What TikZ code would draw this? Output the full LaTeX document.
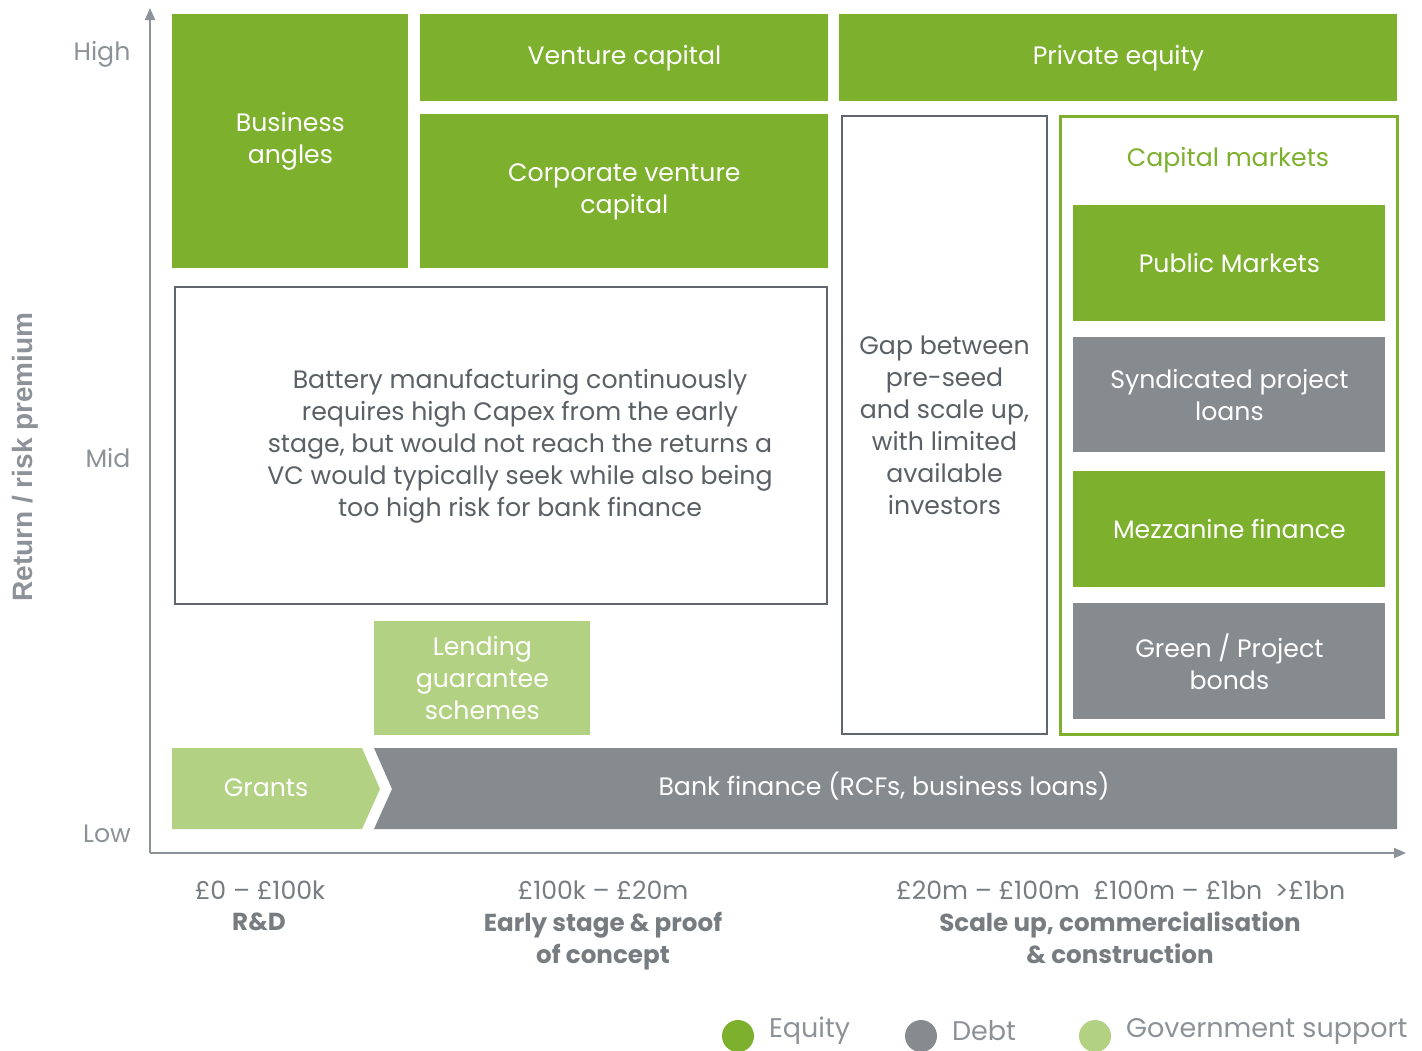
\documentclass[tikz,border=0pt]{standalone}
\usepackage{fontspec}
\setmainfont{Poppins}
\newfontfamily\axisfont{Liberation Sans}
\usetikzlibrary{arrows.meta}

\definecolor{eqgreen}{HTML}{7DB02D}
\definecolor{debtgray}{HTML}{868B90}
\definecolor{govgreen}{HTML}{B3D182}
\definecolor{axisgray}{HTML}{8C9298}
\definecolor{textgray}{HTML}{5A6066}
\definecolor{linegray}{HTML}{5F666D}

\tikzset{
  blk/.style 2 args={minimum width=#1*0.5pt, minimum height=#2*0.5pt, anchor=north west, inner sep=0pt, align=center},
  eqbox/.style={fill=eqgreen, text=white},
  debtbox/.style={fill=debtgray, text=white},
  govbox/.style={fill=govgreen, text=white},
  outbox/.style={draw=linegray, line width=1pt, fill=white, text=textgray},
  axis/.style={axisgray, line width=1pt, -{Triangle[length=6pt,width=5pt]}},
  ticklab/.style={text=axisgray},
  costlab/.style={text=axisgray!85!black, align=center},
  boldlab/.style={costlab, font=\bfseries\fontsize{12.3}{16}\selectfont},
  leglab/.style={text=axisgray, anchor=west, font=\fontsize{13.5}{16}\selectfont},
}

\begin{document}
\begin{tikzpicture}[x=0.5pt, y=-0.5pt, font=\fontsize{12.6}{16}\selectfont]
  \useasboundingbox (0,0) rectangle (1422,1050);

% axes
  \coordinate (origin) at (150,853);
  \coordinate (ytip) at (150,8);
  \coordinate (xtip) at (1406,853);
  \draw[axis] (origin) -- (ytip);
  \draw[axis] (origin) -- (xtip);
  \node[ticklab] (high) at (102,54) {High};
  \node[ticklab] (mid) at (108,458) {Mid};
  \node[ticklab] (low) at (107,834) {Low};
  \node[rotate=90, text=axisgray, font=\axisfont\bfseries\fontsize{14}{16}\selectfont] (ylab) at (25,457) {Return / risk premium};

% equity blocks at the top
  \node[eqbox, blk={236}{254}] (angels) at (172,14) {Business\\angles};
  \node[eqbox, blk={408}{87}]  (vc) at (420,14) {Venture capital};
  \node[eqbox, blk={558}{87}]  (pe) at (839,14) {Private equity};
  \node[eqbox, blk={408}{154}] (cvc) at (420,114) {Corporate venture\\capital};

% the gap
  \node[outbox, blk={652}{317}] (battery) at (174,286) {};
  \node[text=textgray, align=center] (batterytxt) at (520,446)
    {Battery manufacturing continuously\\requires high Capex from the early\\stage, but would not reach the returns a\\VC would typically seek while also being\\too high risk for bank finance};
  \node[outbox, blk={205}{618}] (gap) at (841,115)
    {Gap between\\pre-seed\\and scale up,\\with limited\\available\\investors};

% capital markets
  \node[draw=eqgreen, line width=1.3pt, blk={337}{618}] (capmkt) at (1059,115) {};
  \node[text=eqgreen] (capmkttxt) at (1228,160) {Capital markets};
  \node[eqbox, blk={312}{116}]   (public) at (1073,205) {Public Markets};
  \node[debtbox, blk={312}{115}] (synd) at (1073,337) {Syndicated project\\loans};
  \node[eqbox, blk={312}{116}]   (mezz) at (1073,471) {Mezzanine finance};
  \node[debtbox, blk={312}{116}] (bonds) at (1073,603) {Green / Project\\bonds};

% government support and bank finance
  \node[govbox, blk={216}{114}] (lending) at (374,621) {Lending\\guarantee\\schemes};
  \fill[govgreen] (172,748) -- (362,748) -- (380,789) -- (362,829) -- (172,829) -- cycle;
  \fill[debtgray] (374,748) -- (1397,748) -- (1397,829) -- (374,829) -- (392,789) -- cycle;
  \node[text=white] (grants) at (266,788) {Grants};
  \node[text=white] (bank) at (884,786) {Bank finance (RCFs, business loans)};

% cost bands
  \node[costlab] (rdcost) at (260,890) {£0 – £100k};
  \node[boldlab] (rd) at (259,922) {R\&D};
  \node[costlab] (earlycost) at (603,890) {£100k – £20m};
  \node[boldlab] (early) at (603,941) {Early stage \& proof\\of concept};
  \node[costlab] (scalecostA) at (988,890) {£20m – £100m};
  \node[costlab] (scalecostB) at (1178,890) {£100m – £1bn};
  \node[costlab] (scalecostC) at (1310,890) {>£1bn};
  \node[boldlab] (scale) at (1120,938) {Scale up, commercialisation\\\& construction};

% legend
  \fill[eqgreen] (738,1036) circle (16);
  \node[leglab] (legeq) at (762,1031) {Equity};
  \fill[debtgray] (921,1036) circle (16);
  \node[leglab] (legdebt) at (945,1031) {Debt};
  \fill[govgreen] (1095,1036) circle (16);
  \node[leglab] (leggov) at (1119,1031) {Government support};
\end{tikzpicture}
\end{document}
